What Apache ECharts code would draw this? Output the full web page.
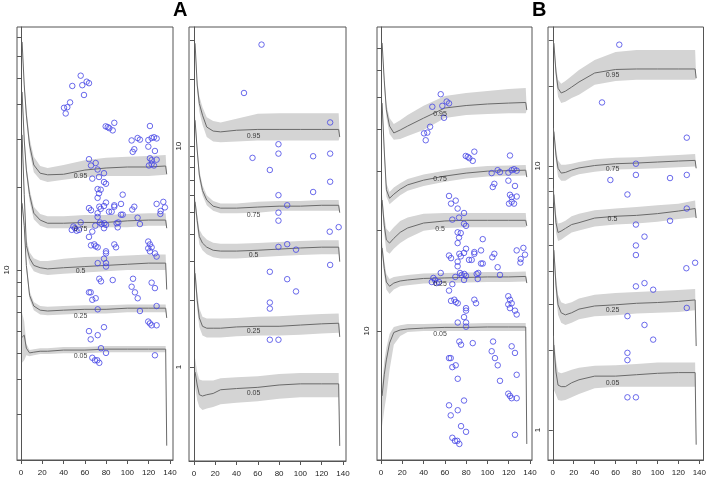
<!DOCTYPE html>
<html>
<head>
<meta charset="utf-8">
<script src="https://cdn.jsdelivr.net/npm/echarts@6/dist/echarts.min.js"></script>
<style>
html, body { margin: 0; padding: 0; background: #fff; }
#chart { width: 709px; height: 478px; }
</style>
</head>
<body>
<div id="chart"></div>
<script>
// ages at which the quantile curves are read, last one is the end drop
var ages = [1, 3, 5, 8, 12, 18, 25, 40, 60, 80, 100, 120, 136, 137];
var quantiles = ['0.05', '0.25', '0.5', '0.75', '0.95'];
var xTicks = [0, 20, 40, 60, 80, 100, 120, 140];

// panel 1 (A, left) rows: 0.05, 0.25, 0.5, 0.75, 0.95
var p1Mid = [
    [5.7, 5.8, 5.2, 5.0, 5.03, 5.07, 5.07, 5.12, 5.12, 5.16, 5.16, 5.16, 5.16, 2.3],
    [17.5, 14.5, 10.4, 8.1, 7.4, 7.15, 7.1, 7.15, 7.2, 7.2, 7.27, 7.27, 7.27, 6.7],
    [31.0, 18.8, 12.3, 11.05, 10.4, 10.2, 10.1, 10.2, 10.3, 10.4, 10.5, 10.6, 10.6, 8.5],
    [44.4, 29.7, 23.1, 18.8, 16.1, 15.2, 14.8, 14.8, 14.9, 14.9, 15.1, 15.2, 15.2, 14.2],
    [67.5, 47.1, 36.6, 28.5, 24.1, 22.5, 22.2, 22.3, 23.1, 23.5, 23.7, 23.7, 23.9, 22.3]
];
var p1Hi = [
    [7.0, 6.5, 5.4, 5.12, 5.16, 5.2, 5.2, 5.25, 5.25, 5.3, 5.3, 5.3, 5.3, 2.3],
    [18.1, 15.0, 10.75, 8.4, 7.65, 7.4, 7.35, 7.4, 7.45, 7.45, 7.5, 7.5, 7.5, 6.7],
    [32.0, 19.7, 13.0, 11.6, 11.05, 10.8, 10.8, 11.0, 11.15, 11.2, 11.3, 11.4, 11.4, 8.5],
    [45.9, 31.0, 24.1, 19.7, 17.0, 16.0, 15.7, 15.7, 15.85, 15.85, 16.0, 16.1, 16.1, 14.2],
    [68.6, 48.3, 38.8, 30.2, 25.8, 23.9, 23.5, 24.1, 25.1, 25.6, 25.8, 26.0, 26.2, 22.3]
];
var p1Lo = [
    [4.6, 4.7, 4.9, 4.86, 4.9, 4.95, 4.95, 4.99, 4.99, 5.03, 5.03, 5.03, 5.03, 2.3],
    [16.9, 14.0, 10.05, 7.85, 7.15, 6.9, 6.85, 6.9, 6.95, 6.95, 7.03, 7.03, 7.03, 6.7],
    [29.9, 17.8, 11.7, 10.5, 9.9, 9.7, 9.6, 9.7, 9.8, 9.9, 10.0, 10.0, 10.0, 8.5],
    [42.9, 28.5, 22.2, 17.8, 15.3, 14.5, 14.2, 14.2, 14.2, 14.3, 14.3, 14.5, 14.5, 14.2],
    [65.2, 45.1, 35.1, 26.9, 22.7, 21.3, 20.9, 21.3, 21.8, 22.0, 22.0, 22.0, 22.2, 22.3]
];
var p1LabelY = [4.87, 6.8, 9.94, 14.1, 22.0];

// panel 2 (A, right)
var p2Mid = [
    [0.95, 0.83, 0.75, 0.74, 0.75, 0.76, 0.79, 0.80, 0.81, 0.83, 0.84, 0.84, 0.84, 0.44],
    [2.66, 2.01, 1.67, 1.53, 1.50, 1.50, 1.50, 1.52, 1.53, 1.53, 1.55, 1.57, 1.58, 1.37],
    [5.6, 4.6, 3.9, 3.64, 3.49, 3.38, 3.35, 3.35, 3.38, 3.42, 3.46, 3.49, 3.49, 3.0],
    [13.1, 9.6, 7.4, 6.3, 5.7, 5.35, 5.24, 5.24, 5.3, 5.35, 5.35, 5.4, 5.4, 5.0],
    [29.2, 18.9, 15.6, 13.8, 12.2, 11.7, 11.6, 11.8, 11.9, 11.9, 11.9, 11.9, 11.9, 11.0]
];
var p2Hi = [
    [1.1, 0.95, 0.88, 0.87, 0.87, 0.87, 0.89, 0.9, 0.91, 0.93, 0.94, 0.94, 0.94, 0.44],
    [2.9, 2.2, 1.84, 1.69, 1.66, 1.66, 1.66, 1.67, 1.69, 1.7, 1.72, 1.74, 1.75, 1.37],
    [5.9, 4.9, 4.2, 3.95, 3.78, 3.65, 3.62, 3.62, 3.64, 3.68, 3.72, 3.75, 3.75, 3.0],
    [13.8, 10.1, 7.8, 6.65, 6.0, 5.65, 5.5, 5.5, 5.6, 5.65, 5.65, 5.7, 5.7, 5.0],
    [29.9, 19.9, 16.8, 15.0, 13.5, 13.0, 12.8, 13.3, 14.0, 14.1, 14.1, 14.1, 14.1, 11.0]
];
var p2Lo = [
    [0.82, 0.71, 0.66, 0.64, 0.65, 0.66, 0.68, 0.69, 0.7, 0.72, 0.73, 0.73, 0.73, 0.44],
    [2.45, 1.83, 1.52, 1.39, 1.36, 1.36, 1.36, 1.38, 1.39, 1.39, 1.4, 1.42, 1.43, 1.37],
    [5.3, 4.3, 3.6, 3.38, 3.24, 3.14, 3.1, 3.1, 3.14, 3.18, 3.22, 3.24, 3.24, 3.0],
    [12.4, 9.1, 7.0, 6.0, 5.4, 5.1, 4.97, 4.97, 5.0, 5.1, 5.1, 5.1, 5.1, 5.0],
    [28.4, 17.6, 14.3, 12.5, 11.0, 10.5, 10.4, 10.5, 10.6, 10.6, 10.6, 10.6, 10.6, 11.0]
];
var p2LabelY = [0.76, 1.45, 3.2, 4.9, 11.1];

// panel 3 (B, left)
var p3Mid = [
    [6.4, 7.4, 8.2, 9.2, 9.9, 10.07, 10.14, 10.2, 10.25, 10.25, 10.28, 10.28, 10.28, 4.6],
    [17.7, 15.4, 14.0, 13.6, 13.9, 14.1, 14.2, 14.35, 14.4, 14.45, 14.5, 14.5, 14.55, 13.9],
    [24.6, 20.7, 18.7, 18.3, 18.9, 19.7, 20.3, 21.0, 21.3, 21.4, 21.4, 21.4, 21.4, 20.6],
    [47.9, 34.7, 26.4, 24.9, 25.6, 26.5, 27.3, 28.2, 29.0, 29.6, 30.0, 30.1, 30.2, 28.8],
    [72.4, 56.1, 45.7, 40.9, 39.0, 39.8, 40.9, 43.2, 46.3, 47.1, 47.6, 47.9, 48.1, 45.7]
];
var p3Hi = [
    [6.9, 8.1, 8.9, 9.8, 10.28, 10.4, 10.5, 10.5, 10.53, 10.53, 10.56, 10.56, 10.56, 4.6],
    [18.5, 16.2, 14.8, 14.3, 14.5, 14.6, 14.7, 14.85, 14.9, 14.95, 15.0, 15.0, 15.05, 13.9],
    [25.6, 22.0, 20.2, 19.7, 20.4, 21.3, 21.8, 22.4, 22.5, 22.5, 22.5, 22.5, 22.5, 20.6],
    [49.5, 36.2, 27.6, 26.0, 26.8, 27.6, 28.4, 29.3, 30.1, 30.7, 31.1, 31.2, 31.3, 28.8],
    [73.4, 57.7, 47.6, 43.2, 41.5, 42.6, 44.1, 47.0, 50.3, 51.3, 52.0, 52.8, 53.1, 45.7]
];
var p3Lo = [
    [5.2, 5.8, 6.4, 7.65, 9.1, 9.66, 9.93, 10.0, 10.0, 10.0, 10.0, 10.0, 10.0, 4.6],
    [17.0, 14.7, 13.3, 12.9, 13.3, 13.6, 13.7, 13.85, 13.9, 13.95, 14.0, 14.0, 14.05, 13.9],
    [23.6, 19.5, 17.3, 17.0, 17.6, 18.3, 18.9, 19.9, 20.3, 20.4, 20.4, 20.4, 20.4, 20.6],
    [46.2, 33.0, 25.2, 23.9, 24.5, 25.4, 26.2, 27.1, 27.9, 28.5, 28.9, 29.0, 29.1, 28.8],
    [70.9, 54.2, 43.5, 38.7, 37.2, 37.4, 38.2, 39.8, 43.2, 44.1, 44.4, 44.7, 44.7, 45.7]
];
var p3LabelY = [9.8, 13.8, 20.1, 28.4, 44.3];

// panel 4 (B, right)
var p4Mid = [
    [2.1, 1.66, 1.48, 1.46, 1.46, 1.51, 1.55, 1.60, 1.60, 1.62, 1.64, 1.65, 1.65, 0.88],
    [4.8, 3.54, 2.98, 2.78, 2.73, 2.78, 2.87, 2.95, 2.98, 3.02, 3.04, 3.07, 3.11, 2.08],
    [7.8, 6.1, 5.6, 5.67, 5.8, 6.0, 6.1, 6.35, 6.45, 6.5, 6.6, 6.75, 6.9, 6.35],
    [13.5, 11.0, 9.8, 9.4, 9.45, 9.66, 9.83, 10.04, 10.2, 10.26, 10.35, 10.44, 10.5, 9.8],
    [29.2, 22.7, 19.7, 18.9, 19.2, 19.9, 20.8, 22.5, 23.2, 23.3, 23.3, 23.3, 23.3, 21.5]
];
var p4Hi = [
    [2.29, 1.84, 1.66, 1.64, 1.66, 1.69, 1.72, 1.75, 1.76, 1.78, 1.80, 1.80, 1.80, 0.88],
    [5.1, 3.85, 3.25, 3.05, 3.0, 3.05, 3.15, 3.25, 3.3, 3.33, 3.36, 3.39, 3.42, 2.08],
    [8.3, 6.6, 6.05, 6.1, 6.2, 6.45, 6.6, 6.8, 6.9, 7.0, 7.1, 7.2, 7.4, 6.35],
    [14.0, 11.7, 10.5, 10.1, 10.1, 10.2, 10.35, 10.6, 10.75, 10.8, 10.9, 11.0, 11.1, 9.8],
    [29.8, 23.9, 21.2, 20.5, 21.0, 21.9, 23.1, 25.2, 27.0, 27.5, 27.5, 27.5, 27.5, 21.5]
];
var p4Lo = [
    [1.42, 1.36, 1.30, 1.29, 1.30, 1.33, 1.37, 1.44, 1.46, 1.46, 1.46, 1.46, 1.46, 0.88],
    [4.5, 3.25, 2.73, 2.55, 2.5, 2.55, 2.63, 2.7, 2.72, 2.76, 2.78, 2.8, 2.84, 2.08],
    [7.3, 5.6, 5.2, 5.25, 5.4, 5.6, 5.7, 5.9, 6.0, 6.05, 6.15, 6.3, 6.4, 6.35],
    [13.0, 10.3, 9.1, 8.8, 8.8, 9.1, 9.3, 9.5, 9.7, 9.75, 9.8, 9.9, 9.95, 9.8],
    [28.5, 21.2, 18.3, 17.3, 17.5, 18.1, 18.6, 20.3, 21.0, 21.2, 21.2, 21.2, 21.2, 21.5]
];
var p4LabelY = [1.51, 2.85, 6.3, 9.7, 22.1];

// observed points, set A (panels 1 and 3): [age, value]
var pointsA = [
    [56.1, 50.9], [48.2, 46.7], [57.6, 47.0], [61.7, 48.4], [63.9, 47.8], [59.2, 43.3], [46.1, 40.7], [43.5, 39.1], [40.4, 38.9], [42.0, 37.1],
    [79.6, 33.3], [81.5, 33.1], [83.0, 32.8], [86.2, 32.2], [87.7, 34.3], [121.2, 33.4],
    [104.0, 29.6], [109.6, 30.2], [111.8, 29.8], [119.7, 29.7], [122.8, 30.2], [125.0, 30.4], [127.5, 30.1], [106.5, 27.5], [105.0, 26.9],
    [119.7, 28.1], [125.9, 27.1], [121.2, 25.5], [122.8, 25.1], [127.5, 25.2], [120.3, 24.0], [122.8, 24.3], [125.0, 24.0],
    [63.9, 25.3], [65.8, 24.0], [70.2, 24.5], [72.0, 23.2], [78.0, 22.5], [73.3, 21.8], [67.0, 21.5], [78.0, 20.9], [79.9, 20.6],
    [72.0, 19.7], [74.9, 19.6], [73.3, 19.0], [72.0, 18.3], [95.6, 18.8], [63.9, 16.8], [65.8, 16.5], [72.0, 16.1], [73.6, 17.0], [74.9, 16.7],
    [78.0, 17.1], [79.9, 17.6], [82.7, 16.3], [85.2, 16.3], [87.7, 17.2], [87.7, 17.0], [94.0, 17.4], [104.6, 16.6], [106.5, 17.0], [94.0, 15.9],
    [95.6, 15.9], [72.0, 15.6], [109.6, 15.5], [127.5, 17.4], [133.8, 17.7], [135.3, 16.9], [131.3, 16.4], [131.0, 16.0],
    [56.1, 14.9], [74.2, 14.9], [75.8, 14.7], [78.3, 14.8], [79.9, 14.6], [69.8, 14.5], [49.2, 14.4], [50.8, 14.2], [47.7, 14.0], [52.3, 13.9],
    [54.5, 14.0], [67.0, 13.8], [78.0, 14.2], [89.9, 14.8], [91.4, 14.9], [90.9, 14.3], [111.8, 14.7], [63.9, 13.2],
    [65.8, 12.3], [68.9, 12.4], [70.2, 12.2], [72.1, 12.1], [87.7, 12.4], [89.3, 12.1], [79.9, 11.7], [79.9, 11.5], [78.0, 11.0], [72.1, 10.6],
    [79.9, 10.6], [79.9, 10.3], [119.6, 12.7], [121.2, 12.4], [122.8, 12.1], [119.6, 12.0], [121.2, 11.7], [125.9, 11.5], [127.5, 11.2],
    [73.6, 9.3], [75.2, 9.1], [86.2, 9.2], [105.3, 9.3], [104.0, 8.7], [107.1, 8.3], [122.8, 9.0], [125.9, 8.6], [63.9, 8.3], [65.5, 8.3],
    [67.0, 7.8], [70.2, 7.9], [109.7, 7.9], [72.1, 7.2], [111.8, 7.1], [127.5, 7.4],
    [119.6, 6.5], [121.2, 6.4], [122.8, 6.3], [127.5, 6.3], [78.0, 6.2], [63.9, 6.0], [72.1, 5.8], [65.5, 5.6], [75.2, 5.2], [79.9, 5.0],
    [67.0, 4.8], [69.5, 4.7], [71.7, 4.7], [73.6, 4.6], [125.9, 4.9]
];

// observed points, set B (panels 2 and 4)
var pointsB = [
    [63.5, 28.8], [47.0, 17.4], [128.0, 12.8], [79.4, 10.2], [55.0, 8.85], [79.4, 9.25], [112.0, 9.0], [128.0, 9.25], [71.3, 7.8], [128.0, 6.9],
    [79.4, 6.0], [112.0, 6.2], [87.6, 5.4], [79.4, 5.0], [79.4, 4.6], [136.0, 4.3], [127.6, 4.1], [79.4, 3.5], [87.6, 3.6], [95.9, 3.4],
    [128.0, 2.9], [71.3, 2.7], [87.6, 2.5], [95.9, 2.2], [71.3, 1.96], [71.3, 1.84], [71.3, 1.33], [79.4, 1.33]
];

var grids = [
    { left: 17, top: 27, width: 156, height: 433 },
    { left: 189, top: 27, width: 157, height: 434 },
    { left: 377, top: 27, width: 155, height: 433 },
    { left: 548, top: 27, width: 156, height: 433 }
];
var xRanges = [[-3.8, 142.9], [-4.7, 142.9], [-3.8, 141.9], [-4.6, 144]];
var yRanges = [[2.04, 76.5], [0.376, 34.6], [4.12, 80.8], [0.77, 33.6]];
var yTicks = [
    [3, 4, 5, 6, 7, 8, 9, 10, 20, 30, 40, 50, 60, 70],
    [1, 2, 3, 4, 5, 6, 7, 8, 9, 10, 20, 30],
    [10, 20, 30, 40, 50, 60, 70],
    [1, 2, 3, 4, 5, 6, 7, 8, 9, 10, 20, 30]
];
var yLabels = [[10], [1, 10], [10], [1, 10]];
var labelAge = [56, 56, 55.5, 57];

var panels = [
    { mid: p1Mid, hi: p1Hi, lo: p1Lo, labels: p1LabelY, pts: pointsA },
    { mid: p2Mid, hi: p2Hi, lo: p2Lo, labels: p2LabelY, pts: pointsB },
    { mid: p3Mid, hi: p3Hi, lo: p3Lo, labels: p3LabelY, pts: pointsA },
    { mid: p4Mid, hi: p4Hi, lo: p4Lo, labels: p4LabelY, pts: pointsB }
];

var axisColor = '#555';
var font = 'Liberation Sans, Arial, sans-serif';

var xAxes = [], yAxes = [], series = [];

grids.forEach(function (g, k) {
    xAxes.push({
        type: 'value', gridIndex: k,
        min: xRanges[k][0], max: xRanges[k][1],
        splitLine: { show: false },
        axisLine: { show: true, lineStyle: { color: axisColor } },
        axisTick: { show: true, length: 4, customValues: xTicks, lineStyle: { color: axisColor } },
        axisLabel: { customValues: xTicks, fontSize: 8, color: '#222', margin: 9, fontFamily: font }
    });
    yAxes.push({
        type: 'log', logBase: 10, gridIndex: k,
        min: yRanges[k][0], max: yRanges[k][1],
        splitLine: { show: false },
        axisLine: { show: true, lineStyle: { color: axisColor } },
        axisTick: { show: true, length: 4, customValues: yTicks[k], lineStyle: { color: axisColor } },
        axisLabel: { customValues: yLabels[k], rotate: 90, fontSize: 8, color: '#222', margin: 6, fontFamily: font }
    });
});

function bandSeries(k, lo, hi) {
    return {
        type: 'custom', xAxisIndex: k, yAxisIndex: k, silent: true, z: 1,
        data: [[ages[0], lo[0]]],
        renderItem: function (params, api) {
            var pts = [];
            for (var i = 0; i < ages.length; i++) pts.push(api.coord([ages[i], hi[i]]));
            for (var j = ages.length - 1; j >= 0; j--) pts.push(api.coord([ages[j], lo[j]]));
            return { type: 'polygon', shape: { points: pts }, style: { fill: '#d4d4d4' } };
        }
    };
}

panels.forEach(function (p, k) {
    for (var q = 0; q < quantiles.length; q++) {
        series.push(bandSeries(k, p.lo[q], p.hi[q]));
        series.push({
            type: 'line', xAxisIndex: k, yAxisIndex: k, z: 3,
            showSymbol: false, silent: true,
            lineStyle: { color: '#6a6a6a', width: 1 },
            data: ages.map(function (a, i) { return [a, p.mid[q][i]]; })
        });
    }
    series.push({
        type: 'scatter', xAxisIndex: k, yAxisIndex: k, z: 5, silent: true,
        symbol: 'circle', symbolSize: 5.5,
        itemStyle: { color: 'rgba(0,0,0,0)', borderColor: '#4646e6', borderWidth: 1 },
        data: p.pts
    });
    series.push({
        type: 'scatter', xAxisIndex: k, yAxisIndex: k, z: 6, silent: true,
        symbolSize: 1, itemStyle: { color: 'rgba(0,0,0,0)' },
        label: { show: true, position: 'inside', formatter: '{b}', fontSize: 7, color: '#111', fontFamily: font },
        data: quantiles.map(function (name, q) { return { name: name, value: [labelAge[k], p.labels[q]] }; })
    });
});

var myChart = echarts.init(document.getElementById('chart'));
var option = {
    animation: false,
    backgroundColor: '#fff',
    title: [
        { text: 'A', left: 173, top: 0, padding: 0, textStyle: { fontSize: 20, fontWeight: 'bold', color: '#000', fontFamily: font } },
        { text: 'B', left: 532, top: 0, padding: 0, textStyle: { fontSize: 20, fontWeight: 'bold', color: '#000', fontFamily: font } }
    ],
    grid: grids.map(function (g) {
        return { left: g.left, top: g.top, width: g.width, height: g.height, show: true, borderColor: axisColor, borderWidth: 1, backgroundColor: '#fff' };
    }),
    xAxis: xAxes,
    yAxis: yAxes,
    series: series
};
myChart.setOption(option);
</script>
</body>
</html>
